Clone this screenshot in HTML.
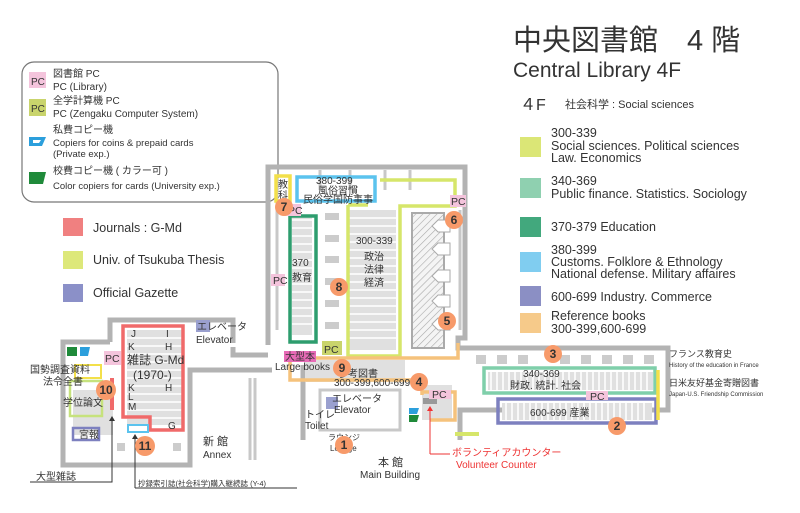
<!DOCTYPE html><html><head><meta charset="utf-8"><style>
body{margin:0;background:#fff}
svg text{font-family:"Liberation Sans","Noto Sans CJK JP",sans-serif;fill:#333}
</style></head><body>
<svg width="800" height="508" viewBox="0 0 800 508" xmlns="http://www.w3.org/2000/svg">
<text x="513" y="50" font-size="29">中央図書館　4 階</text>
<text x="513" y="77" font-size="21">Central Library 4F</text>
<text x="520" y="110" font-size="16">４F</text>
<text x="565" y="108" font-size="11">社会科学 : Social sciences</text>
<g font-size="12.5">
<rect x="520" y="137" width="21" height="20" fill="#dbe676"/>
<text x="551" y="137">300-339</text><text x="551" y="150">Social sciences. Political sciences</text><text x="551" y="162">Law. Economics</text>
<rect x="520" y="178" width="21" height="20" fill="#8fd0b0"/>
<text x="551" y="185">340-369</text><text x="551" y="198">Public finance. Statistics. Sociology</text>
<rect x="520" y="217" width="21" height="20" fill="#42a87d"/>
<text x="551" y="231">370-379 Education</text>
<rect x="520" y="252" width="21" height="20" fill="#80cdf0"/>
<text x="551" y="254">380-399</text><text x="551" y="266">Customs. Folklore &amp; Ethnology</text><text x="551" y="278">National defense. Military affaires</text>
<rect x="520" y="286" width="21" height="20" fill="#8b8fc4"/>
<text x="551" y="301">600-699 Industry. Commerce</text>
<rect x="520" y="313" width="21" height="20" fill="#f6ca8a"/>
<text x="551" y="320">Reference books</text><text x="551" y="333">300-399,600-699</text>
</g>
<rect x="22" y="62" width="256" height="140" rx="12" fill="none" stroke="#777" stroke-width="1.2"/>
<rect x="29" y="72" width="17" height="16" fill="#f4c4dc"/><text x="31" y="85" font-size="10">PC</text>
<text x="53" y="77" font-size="10">図書館 PC</text><text x="53" y="90" font-size="10">PC (Library)</text>
<rect x="29" y="99" width="17" height="17" fill="#c9d46c"/><text x="31" y="112" font-size="10">PC</text>
<text x="53" y="104" font-size="10">全学計算機 PC</text><text x="53" y="117" font-size="10">PC (Zengaku Computer System)</text>
<path d="M29 137 h17 l-4 9 h-13z" fill="#2c9fdc"/><path d="M33 140 h8 l-2 3 h-6z" fill="#fff"/>
<text x="53" y="133" font-size="10">私費コピー機</text><text x="53" y="146" font-size="9.5">Copiers for coins &amp; prepaid cards</text><text x="53" y="157" font-size="9.5">(Private exp.)</text>
<path d="M29 172 h17 l-3 12 h-14z" fill="#1f8a3a"/>
<text x="53" y="174" font-size="10">校費コピー機 ( カラー可 )</text><text x="53" y="189" font-size="9.5">Color copiers for cards (University exp.)</text>
<rect x="63" y="218" width="20" height="18" fill="#f08080"/><text x="93" y="232" font-size="12.5">Journals : G-Md</text>
<rect x="63" y="251" width="20" height="18" fill="#dde87a"/><text x="93" y="264" font-size="12.5">Univ. of Tsukuba Thesis</text>
<rect x="63" y="284" width="20" height="18" fill="#8b90c8"/><text x="93" y="297" font-size="12.5">Official Gazette</text>

<g fill="none" stroke="#b3b3b3" stroke-width="5" stroke-linejoin="miter">
<path d="M110 342 V320 H233 V343"/>
<path d="M110 342 H63 V465 H190 V370 H272"/>
<path d="M268 345 V167 H465 V338 H458 V348 H668 V410 H460 V440"/>
<path d="M303 365 V440"/>
<path d="M233 347 V355 H268"/>
</g>
<g fill="none" stroke="#c8c8c8" stroke-width="3">
<path d="M277 178 V330"/><path d="M460 210 V330"/>
<path d="M320 170 V190"/><path d="M350 170 V190"/><path d="M385 170 V190"/><path d="M410 170 V190"/>
<path d="M320 390 H400 V430 H320z"/>
<path d="M250 378 V460"/><path d="M255 378 V460"/>
</g>
<g fill="#e0e0e0">
<rect x="292" y="215" width="20" height="120"/>
<rect x="348" y="210" width="48" height="140"/>
<rect x="127" y="330" width="55" height="95"/>
<rect x="73" y="390" width="40" height="45"/>
<rect x="488" y="372" width="165" height="18"/>
<rect x="502" y="403" width="150" height="17"/>
<rect x="305" y="360" width="100" height="22"/>
<rect x="422" y="385" width="30" height="35"/>
</g>
<g stroke="#fff" stroke-width="1.5">
<path d="M292 220H312M292 228H312M292 236H312M292 244H312M292 252H312M292 260H312M292 268H312M292 276H312M292 284H312M292 292H312M292 300H312M292 308H312M292 316H312M292 324H312"/>
<path d="M348 218H396M348 226H396M348 234H396M348 242H396M348 250H396M348 258H396M348 266H396M348 274H396M348 282H396M348 290H396M348 298H396M348 306H396M348 314H396M348 322H396M348 330H396M348 338H396"/>
<path d="M127 338H182M127 346H182M127 354H182M127 362H182M127 370H182M127 378H182M127 386H182M127 394H182M127 402H182M127 410H182M127 418H182"/>
<path d="M491 372V390M497 372V390M503 372V390M509 372V390M515 372V390M521 372V390M527 372V390M533 372V390M539 372V390M545 372V390M551 372V390M557 372V390M563 372V390M569 372V390M575 372V390M581 372V390M587 372V390M593 372V390M599 372V390M605 372V390M611 372V390M617 372V390M623 372V390M629 372V390M635 372V390M641 372V390M647 372V390"/>
<path d="M506 403V420M512 403V420M518 403V420M524 403V420M530 403V420M536 403V420M542 403V420M548 403V420M554 403V420M560 403V420M566 403V420M572 403V420M578 403V420M584 403V420M590 403V420M596 403V420M602 403V420M608 403V420M614 403V420M620 403V420M626 403V420M632 403V420M638 403V420M644 403V420"/>
</g>
<g fill="#ccc">
<rect x="325" y="213" width="14" height="7"/><rect x="325" y="235" width="14" height="7"/><rect x="325" y="256" width="14" height="7"/><rect x="325" y="278" width="14" height="7"/><rect x="325" y="300" width="14" height="7"/><rect x="325" y="322" width="14" height="7"/>
<rect x="476" y="355" width="10" height="9"/><rect x="497" y="355" width="10" height="9"/><rect x="518" y="355" width="10" height="9"/><rect x="560" y="355" width="10" height="9"/><rect x="581" y="355" width="10" height="9"/><rect x="602" y="355" width="10" height="9"/><rect x="623" y="355" width="10" height="9"/><rect x="644" y="355" width="10" height="9"/>
<rect x="117" y="443" width="8" height="8"/><rect x="137" y="443" width="8" height="8"/><rect x="173" y="443" width="8" height="8"/>
</g>
<defs><pattern id="h" width="5" height="5" patternUnits="userSpaceOnUse" patternTransform="rotate(45)"><rect width="5" height="5" fill="#f4f4f4"/><line x1="0" y1="0" x2="0" y2="5" stroke="#aaa" stroke-width="1.2"/></pattern></defs>
<rect x="412" y="213" width="32" height="135" fill="url(#h)" stroke="#aaa" stroke-width="2"/>
<g fill="#fff" stroke="#aaa" stroke-width="1"><path d="M438 220h12v12h-12l-6-6z"/><path d="M438 243h12v12h-12l-6-6z"/><path d="M438 270h12v12h-12l-6-6z"/><path d="M438 295h12v12h-12l-6-6z"/><path d="M438 318h12v12h-12l-6-6z"/></g>
<rect x="423" y="398" width="14" height="6" fill="#999"/>
<g fill="none" stroke-width="3.5">
<rect x="276" y="176" width="14" height="25" stroke="#f3e04a"/>
<rect x="297" y="177" width="78" height="24" stroke="#5bc3ee"/>
<rect x="290" y="216" width="26" height="126" stroke="#2e9d6e"/>
<path d="M348 205 V356 H400 V206 H455 V180 H380" stroke="#d6e66a"/>
<path d="M348 205 H368" stroke="#d6e66a"/>
<rect x="484" y="368" width="171" height="25" stroke="#7fcfaa"/>
<rect x="498" y="399" width="158" height="24" stroke="#7d80bf"/>
<path d="M658 370 V420" stroke="#f3e04a"/>
<path d="M290 358 H458 V343 M290 358 V380 H422 V395" stroke="#f5c27c"/>
<path d="M422 392 H455 V410 V420 H430" stroke="#f5c27c"/>
<path d="M123 326 H183 V430 H150 V417 H123Z" stroke="#f06a6a"/>
<rect x="128" y="425" width="20" height="7" stroke="#5bc3ee" stroke-width="2"/>
<rect x="75" y="365" width="26" height="13" stroke="#f3e04a" stroke-width="2"/>
<rect x="70" y="381" width="32" height="35" stroke="#c6e27d" stroke-width="2.5"/>
<rect x="73" y="428" width="26" height="12" stroke="#7d80bf" stroke-width="2.5"/>
</g>
<rect x="110" y="378" width="4" height="32" fill="#f06a6a"/>
<rect x="455" y="432" width="24" height="4" fill="#d6e66a"/>
<g font-size="10.5">
<rect x="104" y="351" width="17" height="14" fill="#f4c4dc"/><text x="105" y="362">PC</text>
<rect x="285" y="204" width="16" height="12" fill="#f4c4dc"/><text x="288" y="214">PC</text>
<rect x="271" y="274" width="14" height="12" fill="#f4c4dc"/><text x="273" y="284">PC</text>
<rect x="450" y="195" width="16" height="12" fill="#f4c4dc"/><text x="451" y="205">PC</text>
<rect x="322" y="341" width="20" height="14" fill="#c9d46c"/><text x="324" y="353">PC</text>
<rect x="429" y="390" width="22" height="9" fill="#f4c4dc"/><text x="432" y="398">PC</text>
<rect x="586" y="391" width="22" height="9" fill="#f4c4dc"/><text x="590" y="400">PC</text>
</g>
<rect x="67" y="347" width="10" height="9" fill="#1f8a3a"/><path d="M80 347h10l-2 9h-8z" fill="#2c9fdc"/>
<path d="M409 408h10l-2 6h-8z" fill="#2c9fdc"/><path d="M409 415h10l-2 7h-8z" fill="#1f8a3a"/>
<rect x="196" y="320" width="14" height="12" fill="#9aa0cf"/>
<rect x="326" y="397" width="12" height="12" fill="#9aa0cf"/>
<g font-size="10">
<text x="278" y="188">教</text><text x="278" y="199">科</text>
<text x="316" y="184">380-399</text><text x="318" y="194">風俗習慣</text><text x="303" y="203">民俗学国防事事</text>
<text x="292" y="266">370</text><text x="292" y="281">教育</text>
<text x="356" y="244">300-339</text><text x="364" y="260">政治</text><text x="364" y="273">法律</text><text x="364" y="286">経済</text>
<rect x="284" y="351" width="32" height="11" fill="#e76ab6"/><text x="285" y="360">大型本</text>
<text x="275" y="370">Large books</text>
<text x="338" y="377">参考図書</text><text x="334" y="386">300-399,600-699</text>
<text x="332" y="402">エレベータ</text><text x="334" y="413">Elevator</text>
<text x="305" y="418">トイレ</text><text x="305" y="429">Toilet</text>
<text x="328" y="440" font-size="8">ラウンジ</text><text x="330" y="451" font-size="8">Lounge</text>
<text x="523" y="377">340-369</text><text x="510" y="389">財政. 統計. 社会</text>
<text x="530" y="416">600-699 産業</text>
<text x="669" y="357" font-size="9">フランス教育史</text><text x="669" y="367" font-size="6">History of the education in France</text>
<text x="669" y="386" font-size="9">日米友好基金寄贈図書</text><text x="669" y="396" font-size="6">Japan-U.S. Friendship Commission</text>
<text x="197" y="330">エレベータ</text><text x="196" y="343">Elevator</text>
<text x="127" y="364" font-size="12">雑誌 G-Md</text><text x="133" y="379" font-size="12">(1970-)</text>
<text x="131" y="337">J</text><text x="166" y="337">I</text><text x="128" y="350">K</text><text x="165" y="350">H</text>
<text x="128" y="391">K</text><text x="165" y="391">H</text><text x="128" y="400">L</text><text x="128" y="410">M</text><text x="168" y="429">G</text>
<text x="30" y="373">国勢調査資料</text><text x="43" y="385">法令全書</text>
<text x="63" y="406">学位論文</text><text x="79" y="438">宮報</text>
<text x="203" y="445" font-size="11">新 館</text><text x="203" y="458">Annex</text>
<text x="378" y="466" font-size="11">本 館</text><text x="360" y="478">Main Building</text>
<text x="452" y="456" style="fill:#e33">ボランティアカウンター</text>
<text x="456" y="468" style="fill:#e33">Volunteer Counter</text>
<text x="36" y="480">大型雑誌</text>
<text x="138" y="486" font-size="7.5">抄録索引誌(社会科学)購入継続誌 (Y-4)</text>
</g>
<g fill="none" stroke-width="1">
<path d="M30 482 H112 V418" stroke="#333"/><path d="M109 421 l3 -5 3 5z" fill="#333" stroke="none"/>
<path d="M135 488 H297 M135 488 V436" stroke="#333"/><path d="M132 439 l3 -5 3 5z" fill="#333" stroke="none"/>
<path d="M430 454 V408" stroke="#e33"/><path d="M427 411 l3-5 3 5z" fill="#e33" stroke="none"/>
<path d="M430 454 H450" stroke="#e33"/>
</g>
<g font-size="12" font-weight="bold" text-anchor="middle">
<circle cx="344" cy="445" r="9" fill="#f79a6a"/><text x="344" y="449">1</text>
<circle cx="617" cy="426" r="9" fill="#f79a6a"/><text x="617" y="430">2</text>
<circle cx="553" cy="354" r="9" fill="#f79a6a"/><text x="553" y="358">3</text>
<circle cx="419" cy="382" r="9" fill="#f79a6a"/><text x="419" y="386">4</text>
<circle cx="447" cy="321" r="9" fill="#f79a6a"/><text x="447" y="325">5</text>
<circle cx="454" cy="220" r="9" fill="#f79a6a"/><text x="454" y="224">6</text>
<circle cx="284" cy="207" r="9" fill="#f79a6a"/><text x="284" y="211">7</text>
<circle cx="339" cy="287" r="9" fill="#f79a6a"/><text x="339" y="291">8</text>
<circle cx="342" cy="368" r="9" fill="#f79a6a"/><text x="342" y="372">9</text>
<circle cx="106" cy="390" r="10" fill="#f79a6a"/><text x="106" y="394">10</text>
<circle cx="145" cy="446" r="10" fill="#f79a6a"/><text x="145" y="450">11</text>
</g>
</svg>
</body></html>
